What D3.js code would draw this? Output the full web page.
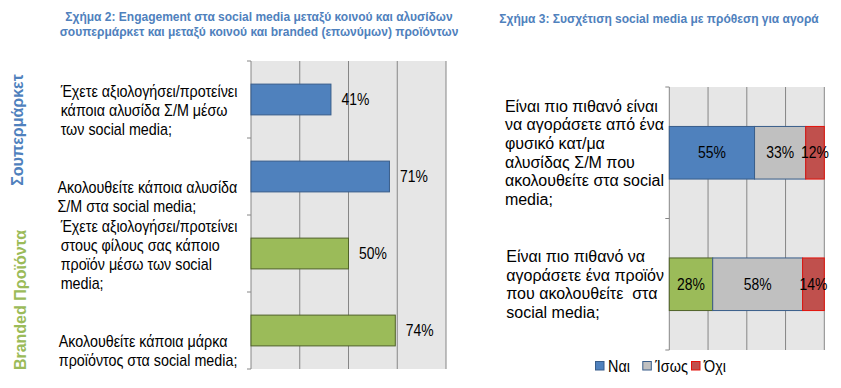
<!DOCTYPE html>
<html>
<head>
<meta charset="utf-8">
<script src="https://cdn.jsdelivr.net/npm/d3@7"></script>
<style>
  body { margin: 0; background: #fff; }
  svg { display: block; }
  .lab { font-family: "Liberation Sans", Arial, sans-serif; font-size: 16px; fill: #000; white-space: pre; }
  .title { font-family: "Liberation Sans", Arial, sans-serif; font-weight: bold; font-size: 12px; fill: #4f81bd; }
</style>
</head>
<body>
<div id="chart"></div>
<script>
// chart 2 data
const leftCategories = [
  ["Έχετε αξιολογήσει/προτείνει", "κάποια αλυσίδα Σ/Μ μέσω", "των social media;"],
  ["Ακολουθείτε κάποια αλυσίδα", "Σ/Μ στα social media;"],
  ["Έχετε αξιολογήσει/προτείνει", "στους φίλους σας κάποιο", "προϊόν μέσω των social", "media;"],
  ["Ακολουθείτε κάποια μάρκα", "προϊόντος στα social media;"]
];
const leftValues = [41, 71, 50, 74];
const leftGroup = [0, 0, 1, 1];
const groupNames = ["Σουπερμάρκετ", "Branded Προϊόντα"];

// chart 3 data
const rightCategories = [
  ["Είναι πιο πιθανό είναι", "να αγοράσετε από ένα", "φυσικό κατ/μα", "αλυσίδας Σ/Μ που", "ακολουθείτε στα social", "media;"],
  ["Είναι πιο πιθανό να", "αγοράσετε ένα προϊόν", "που ακολουθείτε  στα", "social media;"]
];
const rightNai = [55, 28];
const rightIsos = [33, 58];
const rightOxi = [12, 14];
const rightGroup = [0, 1];
const legendLabels = ["Ναι", "Ίσως", "Όχι"];

const xTicks = [25, 50, 75, 100];

const titles2 = ["Σχήμα 2: Engagement στα social media μεταξύ κοινού και αλυσίδων",
                 "σουπερμάρκετ και μεταξύ κοινού και branded (επωνύμων) προϊόντων"];
const title3 = "Σχήμα 3: Συσχέτιση social media με πρόθεση για αγορά";

const width = 841, height = 388;
const fill = { blue: "#4f81bd", green: "#9bbb59", gray: "#c0c0c0", red: "#c0504d" };
const stroke = { blue: "#385d8a", green: "#4f6228", gray: "#385d8a", red: "#e3120b" };
const groupFill = [fill.blue, fill.green];
const groupStroke = [stroke.blue, stroke.green];
const lineH = 18.7;
const numSqueeze = 0.87;   // numbers in the picture are narrower than Arial

const svg = d3.select("#chart").append("svg")
  .attr("width", width)
  .attr("height", height);

// text squeezed horizontally around its anchor point
function label(parent, x, y, k, txt, anchor) {
  return parent.append("text").attr("class", "lab")
    .attr("transform", `translate(${x},${y}) scale(${k},1)`)
    .attr("text-anchor", anchor || "start")
    .attr("dy", "0.35em")
    .text(txt);
}

// titles
svg.append("text").attr("class", "title")
  .attr("text-anchor", "middle")
  .selectAll("tspan").data(titles2).join("tspan")
  .attr("x", 259)
  .attr("y", (d, i) => 21 + i * 15)
  .text(d => d);

svg.append("text").attr("class", "title")
  .attr("text-anchor", "middle")
  .attr("x", 659).attr("y", 23)
  .text(title3);

function drawFrame(x, y, n) {
  const [x0, x1] = x.range();
  const [y0, y1] = y.range();
  svg.append("rect")
    .attr("x", x0).attr("y", y0)
    .attr("width", x1 - x0).attr("height", y1 - y0)
    .attr("fill", "#e6e6e6");
  svg.append("g").selectAll("line").data(xTicks).join("line")
    .attr("x1", d => x(d)).attr("x2", d => x(d))
    .attr("y1", y0).attr("y2", y1)
    .attr("stroke", "#868686");
  svg.append("line")
    .attr("x1", x0).attr("x2", x0).attr("y1", y0).attr("y2", y1)
    .attr("stroke", "#868686");
  const bounds = d3.range(n + 1).map(i => y0 + i * y.step());
  svg.append("g").selectAll("line").data(bounds).join("line")
    .attr("x1", x0 - 4).attr("x2", x0)
    .attr("y1", d => d).attr("y2", d => d)
    .attr("stroke", "#868686");
}

function drawLabels(y, cats, rightEdge, align, k) {
  cats.forEach((lines, i) => {
    const bandStart = y(i) - (y.step() - y.bandwidth()) / 2;
    const bandEnd = bandStart + y.step();
    let firstCenter;
    if (align === "bottom") firstCenter = bandEnd - 9 - (lines.length - 1) * lineH;
    else firstCenter = bandStart + y.step() / 2 - (lines.length - 1) * lineH / 2;
    const t = svg.append("text").attr("class", "lab");
    const spans = t.selectAll("tspan").data(lines).join("tspan")
      .attr("x", 0)
      .attr("y", (d, j) => firstCenter + j * lineH)
      .attr("dy", "0.35em")
      .text(d => d);
    let maxW = 0;
    spans.each(function() { maxW = Math.max(maxW, this.getComputedTextLength()); });
    t.attr("transform", `translate(${rightEdge - maxW * k},0) scale(${k},1)`);
  });
}

// ---------- chart 2 ----------
const xL = d3.scaleLinear().domain([0, 100]).range([251, 446]);
const yL = d3.scaleBand().domain(d3.range(leftValues.length)).range([61, 369])
  .paddingInner(0.6).paddingOuter(0.3);

drawFrame(xL, yL, leftValues.length);

svg.append("g").selectAll("rect").data(leftValues).join("rect")
  .attr("x", xL(0))
  .attr("y", (d, i) => yL(i))
  .attr("width", d => xL(d) - xL(0))
  .attr("height", yL.bandwidth())
  .attr("fill", (d, i) => groupFill[leftGroup[i]])
  .attr("stroke", (d, i) => groupStroke[leftGroup[i]]);

const gLv = svg.append("g");
leftValues.forEach((v, i) => {
  label(gLv, xL(v) + 10.5, yL(i) + yL.bandwidth() / 2, numSqueeze, v + "%");
});

drawLabels(yL, leftCategories, 237.5, "bottom", 0.895);

// rotated group labels
groupNames.forEach((name, gi) => {
  const idx = leftGroup.map((g, i) => g === gi ? i : -1).filter(i => i >= 0);
  const s = yL(idx[0]) - (yL.step() - yL.bandwidth()) / 2;
  const e = yL(idx[idx.length - 1]) + yL.bandwidth() + (yL.step() - yL.bandwidth()) / 2;
  const cy = (s + e) / 2 + (gi === 0 ? -8 : 8);
  svg.append("text")
    .attr("transform", `translate(${gi === 0 ? 17 : 20},${cy}) rotate(-90)`)
    .attr("text-anchor", "middle")
    .attr("dy", "0.35em")
    .style("font-family", "'Liberation Sans', Arial, sans-serif")
    .style("font-weight", "bold")
    .style("font-size", "16px")
    .style("fill", groupFill[gi])
    .text(name);
});

// ---------- chart 3 ----------
const xR = d3.scaleLinear().domain([0, 100]).range([669.3, 824.3]);
const yR = d3.scaleBand().domain(d3.range(rightNai.length)).range([87, 350])
  .paddingInner(0.6).paddingOuter(0.3);

drawFrame(xR, yR, rightNai.length);

const stackData = rightNai.map((v, i) => ({ i, Nai: v, Isos: rightIsos[i], Oxi: rightOxi[i] }));
const stack = d3.stack().keys(["Nai", "Isos", "Oxi"])(stackData);
const segFill = (key, i) => key === "Nai" ? groupFill[rightGroup[i]] : key === "Isos" ? fill.gray : fill.red;
const segStroke = (key, i) => key === "Nai" ? groupStroke[rightGroup[i]] : key === "Isos" ? stroke.gray : stroke.red;

stack.forEach(layer => {
  svg.append("g").selectAll("rect").data(layer).join("rect")
    .attr("x", d => xR(d[0]))
    .attr("y", (d, i) => yR(i))
    .attr("width", d => xR(d[1]) - xR(d[0]))
    .attr("height", yR.bandwidth())
    .attr("fill", (d, i) => segFill(layer.key, i))
    .attr("stroke", (d, i) => segStroke(layer.key, i));
});
const gRv = svg.append("g");
stack.forEach(layer => {
  layer.forEach((d, i) => {
    label(gRv, (xR(d[0]) + xR(d[1])) / 2, yR(i) + yR.bandwidth() / 2, numSqueeze, (d[1] - d[0]) + "%", "middle");
  });
});

drawLabels(yR, rightCategories, 664, "middle", 1);

// legend
const legendX = [595, 642.3, 691];
const legFill = [fill.blue, fill.gray, fill.red];
const legStroke = [stroke.blue, stroke.gray, stroke.red];
const leg = svg.append("g");
legendLabels.forEach((lab, i) => {
  leg.append("rect")
    .attr("x", legendX[i] + 0.5).attr("y", 361.5)
    .attr("width", 8.5).attr("height", 8.5)
    .attr("fill", legFill[i]).attr("stroke", legStroke[i]);
  label(leg, legendX[i] + 13, 366, 0.9, lab);
});
</script>
</body>
</html>
